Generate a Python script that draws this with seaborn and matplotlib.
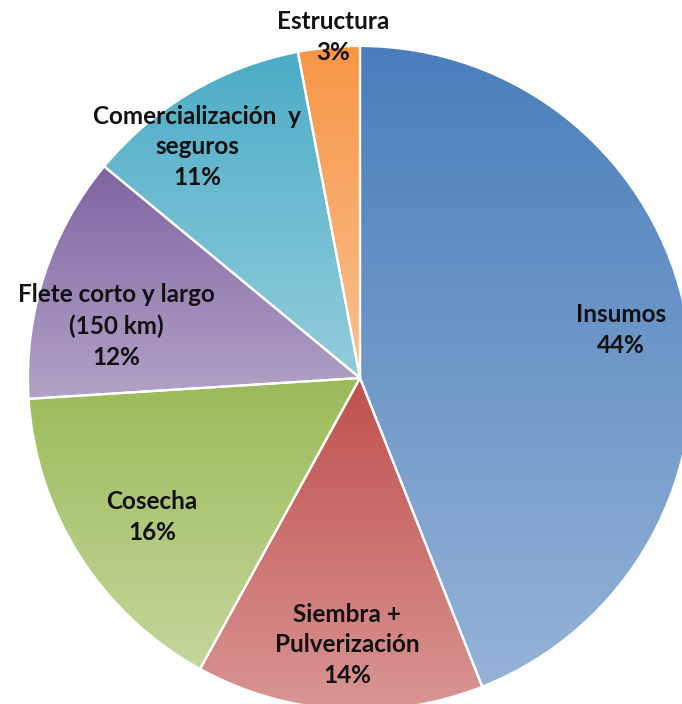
import numpy as np
import matplotlib
matplotlib.use("Agg")
import matplotlib.pyplot as plt
from matplotlib.colors import LinearSegmentedColormap
import seaborn as sns

# data
categories = ["Insumos", "Siembra +\nPulverización", "Cosecha",
              "Flete corto y largo\n(150 km)", "Comercialización  y\nseguros", "Estructura"]
values = [44, 14, 16, 12, 11, 3]
top_colors = ["#4a7ebb", "#c0504d", "#9bbb59", "#8064a2", "#4bacc6", "#f79646"]
bottom_colors = ["#95b3d7", "#d99694", "#c3d69b", "#b3a2c7", "#93cddd", "#fac08f"]

sns.set_theme(style="white")
plt.rcParams['font.family'] = ['Lato', 'DejaVu Sans']

W, H = 682, 704
fig = plt.figure(figsize=(W / 100, H / 100), dpi=100)
ax = fig.add_axes([0, 0, 1, 1])
ax.set_xlim(0, W)
ax.set_ylim(0, H)
ax.set_aspect("equal")
ax.axis("off")

cx, cy, R = 360, H - 378, 332
wedges, _ = ax.pie(values, startangle=90, counterclock=False, center=(cx, cy), radius=R,
                   colors=top_colors, wedgeprops=dict(edgecolor="white", linewidth=1.6))
ax.set_xlim(0, W)
ax.set_ylim(0, H)

grad = np.linspace(0, 1, 256).reshape(-1, 1)
for w, ct, cb in zip(wedges, top_colors, bottom_colors):
    v = w.get_path().vertices
    xmin, xmax = v[:, 0].min(), v[:, 0].max()
    ymin, ymax = v[:, 1].min(), v[:, 1].max()
    cmap = LinearSegmentedColormap.from_list("g", [cb, ct])
    im = ax.imshow(grad, cmap=cmap, extent=[xmin, xmax, ymin, ymax], origin="lower",
                   aspect="auto", zorder=1, interpolation="bilinear")
    im.set_clip_path(w)
    w.set_facecolor("none")
    w.set_zorder(2)

# label positions (pixel coords from top)
label_pos = [(621, 330), (347, 645), (152, 517), (116, 326), (197, 147), (333, 37)]
for (lx, ly), cat, val in zip(label_pos, categories, values):
    ax.text(lx, H - ly, f"{cat}\n{val}%", ha="center", va="center", fontsize=17.5,
            fontweight="bold", color="#111111", linespacing=1.42, zorder=5)

fig.savefig("out.png", dpi=100)
